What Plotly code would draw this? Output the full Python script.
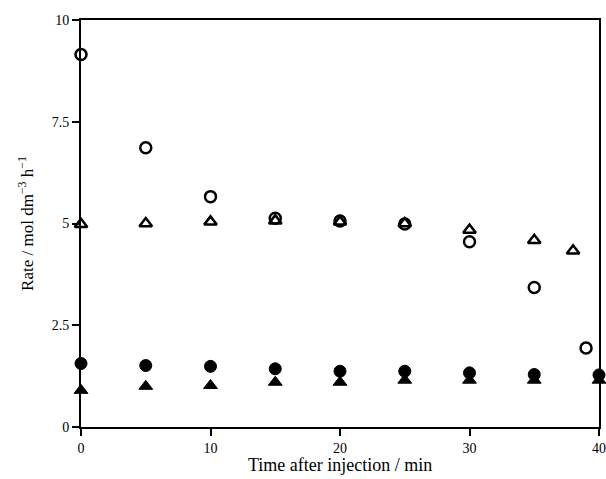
import plotly.graph_objects as go

# Sampling times (min) for each series
t_open_circle = [0, 5, 10, 15, 20, 25, 30, 35, 39]
rate_open_circle = [9.15, 6.86, 5.66, 5.13, 5.06, 4.99, 4.55, 3.43, 1.94]

t_open_triangle = [0, 5, 10, 15, 20, 25, 30, 35, 38]
rate_open_triangle = [4.98, 5.0, 5.04, 5.07, 5.04, 5.0, 4.84, 4.59, 4.33]

t_filled_circle = [0, 5, 10, 15, 20, 25, 30, 35, 40]
rate_filled_circle = [1.56, 1.51, 1.49, 1.43, 1.37, 1.37, 1.33, 1.29, 1.28]

t_filled_triangle = [0, 5, 10, 15, 20, 25, 30, 35, 40]
rate_filled_triangle = [0.90, 1.0, 1.02, 1.1, 1.1, 1.15, 1.15, 1.15, 1.15]

x_ticks = [0, 10, 20, 30, 40]
y_ticks = [0, 2.5, 5, 7.5, 10]
y_tick_labels = ["0", "2.5", "5", "7.5", "10"]

FONT = "Liberation Serif, Times New Roman, serif"

fig = go.Figure()

def add_series(x, y, symbol, size, lw):
    fig.add_trace(go.Scatter(
        x=x, y=y, mode="markers", cliponaxis=False, showlegend=False,
        marker=dict(symbol=symbol, size=size, color="black",
                    line=dict(color="black", width=lw)),
    ))

add_series(t_open_circle, rate_open_circle, "circle-open", 11, 2.5)
add_series(t_open_triangle, rate_open_triangle, "triangle-up-open", 11, 2.5)
add_series(t_filled_circle, rate_filled_circle, "circle", 12, 1)
add_series(t_filled_triangle, rate_filled_triangle, "triangle-up", 12, 1)

axis_common = dict(
    showgrid=False, zeroline=False, showline=True, linecolor="black",
    linewidth=2, mirror=True, ticks="outside", ticklen=7, tickwidth=2,
    tickcolor="black", tickfont=dict(family=FONT, size=14, color="black"),
    automargin=False,
)

fig.update_layout(
    width=606, height=479,
    margin=dict(l=81, r=7, t=20, b=52),
    paper_bgcolor="white", plot_bgcolor="white",
    font=dict(family=FONT, color="black"),
    xaxis=dict(range=[0, 40], tickvals=x_ticks, **axis_common),
    yaxis=dict(range=[0, 10], tickvals=y_ticks, ticktext=y_tick_labels,
               **axis_common,
               title=dict(text="Rate / mol dm<sup>−3</sup> h<sup>−1</sup>",
                          font=dict(family=FONT, size=17), standoff=14)),
    annotations=[dict(
        text="Time after injection / min", xref="paper", yref="paper",
        x=0.5, y=-0.064, xanchor="center", yanchor="top", showarrow=False,
        font=dict(family=FONT, size=18, color="black"),
    )],
)

fig.write_html("out.html")
